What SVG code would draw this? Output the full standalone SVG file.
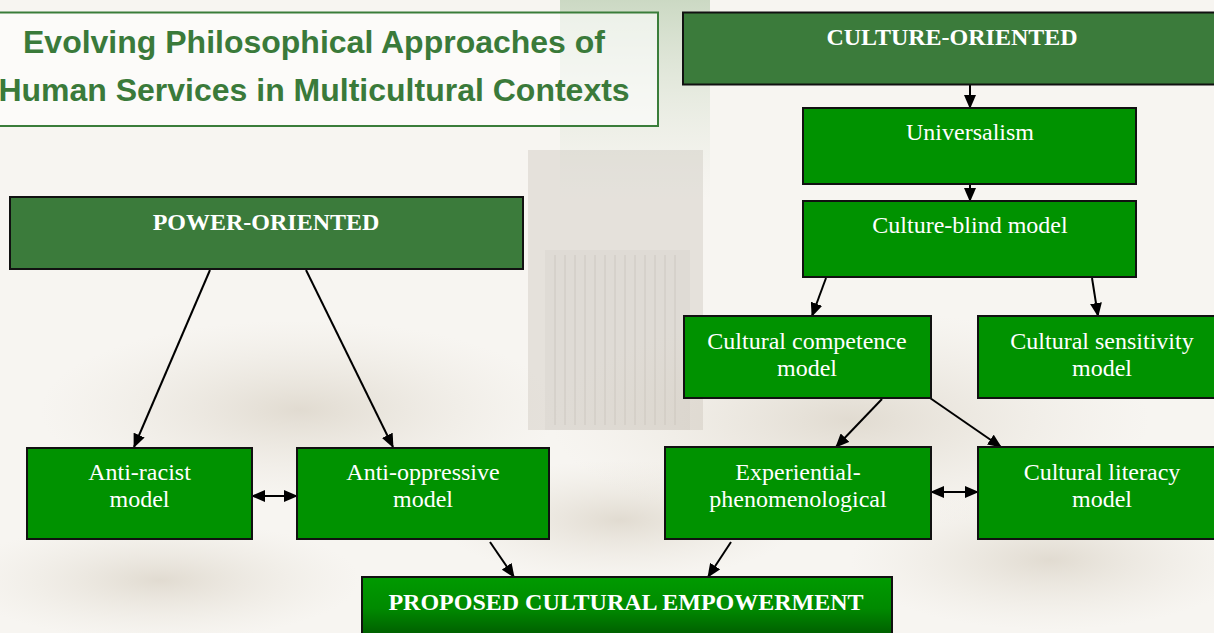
<svg xmlns="http://www.w3.org/2000/svg" width="1214" height="633" viewBox="0 0 1214 633">
  <defs>
    <marker id="ah" markerUnits="userSpaceOnUse" markerWidth="14" markerHeight="12" refX="13" refY="6" orient="auto-start-reverse" viewBox="0 0 14 12">
      <path d="M0,0 L14,6 L0,12 Z" fill="#000"/>
    </marker>
    <linearGradient id="propGrad" x1="0" y1="0" x2="0" y2="1">
      <stop offset="0" stop-color="#009a00"/>
      <stop offset="0.45" stop-color="#008a00"/>
      <stop offset="1" stop-color="#004a00"/>
    </linearGradient>
    <linearGradient id="barGrad" x1="0" y1="0" x2="0" y2="1">
      <stop offset="0" stop-color="#b9cdb0" stop-opacity="0.7"/>
      <stop offset="1" stop-color="#dfe6d8" stop-opacity="0"/>
    </linearGradient>
    <radialGradient id="stone" cx="0.5" cy="0.5" r="0.5">
      <stop offset="0" stop-color="#b8ab95" stop-opacity="0.35"/>
      <stop offset="1" stop-color="#d8d0c0" stop-opacity="0"/>
    </radialGradient>
    <style>
      .hdr { fill: #3b7b3b; stroke: #111; stroke-width: 2; }
      .node { fill: #009200; stroke: #111; stroke-width: 2; }
      .hdrtxt { font-family: "Liberation Serif", "Times New Roman", serif; font-weight: bold; font-size: 24px; fill: #ffffff; text-anchor: middle; }
      .txt { font-family: "Liberation Serif", "Times New Roman", serif; font-size: 24px; fill: #ffffff; text-anchor: middle; }
      .title { font-family: "Liberation Sans", Arial, sans-serif; font-weight: bold; font-size: 32px; fill: #3a7a3a; text-anchor: middle; }
      .conn line { stroke: #000; stroke-width: 2; marker-end: url(#ah); }
      .conn line.both { marker-start: url(#ah); }
    </style>
  </defs>

  <!-- faint photographic background -->
  <g id="background">
    <rect x="0" y="0" width="1214" height="633" fill="#f7f5f1"/>
    <rect x="560" y="0" width="150" height="200" fill="url(#barGrad)"/>
    <rect x="528" y="150" width="175" height="280" fill="#cfcac2" opacity="0.45"/>
    <rect x="545" y="250" width="145" height="180" fill="#d9d6d0" opacity="0.5"/>
    <g stroke="#bdb8b0" stroke-width="1" opacity="0.5">
      <line x1="555" y1="255" x2="555" y2="425"/><line x1="565" y1="255" x2="565" y2="425"/>
      <line x1="575" y1="255" x2="575" y2="425"/><line x1="585" y1="255" x2="585" y2="425"/>
      <line x1="595" y1="255" x2="595" y2="425"/><line x1="605" y1="255" x2="605" y2="425"/>
      <line x1="615" y1="255" x2="615" y2="425"/><line x1="625" y1="255" x2="625" y2="425"/>
      <line x1="635" y1="255" x2="635" y2="425"/><line x1="645" y1="255" x2="645" y2="425"/>
      <line x1="655" y1="255" x2="655" y2="425"/><line x1="665" y1="255" x2="665" y2="425"/>
      <line x1="675" y1="255" x2="675" y2="425"/>
    </g>
    <ellipse cx="300" cy="410" rx="260" ry="90" fill="url(#stone)"/>
    <ellipse cx="850" cy="420" rx="300" ry="110" fill="url(#stone)"/>
    <ellipse cx="160" cy="580" rx="200" ry="60" fill="url(#stone)"/>
    <ellipse cx="1050" cy="560" rx="200" ry="70" fill="url(#stone)"/>
    <ellipse cx="620" cy="520" rx="180" ry="60" fill="url(#stone)"/>
  </g>

  <g id="title">
    <rect x="-2" y="12.5" width="660" height="113.5" fill="#ffffff" fill-opacity="0.6" stroke="#3a7d3a" stroke-width="2"/>
    <text class="title" x="314" y="53">Evolving Philosophical Approaches of</text>
    <text class="title" x="314" y="101">Human Services in Multicultural Contexts</text>
  </g>

  <g id="connectors" class="conn">
    <line x1="970" y1="85" x2="970" y2="108"/>
    <line x1="970" y1="185" x2="970" y2="201"/>
    <line x1="826" y1="278" x2="812" y2="316"/>
    <line x1="1092" y1="278" x2="1098" y2="316"/>
    <line x1="882" y1="399" x2="836" y2="447"/>
    <line x1="930" y1="398" x2="1001" y2="447"/>
    <line class="both" x1="931" y1="492" x2="978" y2="492"/>
    <line class="both" x1="252" y1="496" x2="297" y2="496"/>
    <line x1="210" y1="270" x2="134" y2="447"/>
    <line x1="306" y1="270" x2="393" y2="447"/>
    <line x1="490" y1="542" x2="514" y2="577"/>
    <line x1="731" y1="542" x2="708" y2="577"/>
  </g>

  <g id="culture-oriented">
    <rect class="hdr" x="683" y="12.5" width="540" height="72"/>
    <text class="hdrtxt" x="952" y="45">CULTURE-ORIENTED</text>
  </g>

  <g id="universalism">
    <rect class="node" x="803" y="108" width="333" height="76"/>
    <text class="txt" x="970" y="140">Universalism</text>
  </g>

  <g id="culture-blind">
    <rect class="node" x="803" y="201" width="333" height="76"/>
    <text class="txt" x="970" y="233">Culture-blind model</text>
  </g>

  <g id="cultural-competence">
    <rect class="node" x="684" y="316" width="247" height="82"/>
    <text class="txt" x="807" y="349">Cultural competence</text>
    <text class="txt" x="807" y="376">model</text>
  </g>

  <g id="cultural-sensitivity">
    <rect class="node" x="978" y="316" width="248" height="82"/>
    <text class="txt" x="1102" y="349">Cultural sensitivity</text>
    <text class="txt" x="1102" y="376">model</text>
  </g>

  <g id="experiential">
    <rect class="node" x="665" y="447" width="266" height="92"/>
    <text class="txt" x="798" y="480">Experiential-</text>
    <text class="txt" x="798" y="507">phenomenological</text>
  </g>

  <g id="cultural-literacy">
    <rect class="node" x="978" y="447" width="248" height="92"/>
    <text class="txt" x="1102" y="480">Cultural literacy</text>
    <text class="txt" x="1102" y="507">model</text>
  </g>

  <g id="power-oriented">
    <rect class="hdr" x="10" y="197" width="513" height="72"/>
    <text class="hdrtxt" x="266" y="230">POWER-ORIENTED</text>
  </g>

  <g id="anti-racist">
    <rect class="node" x="27" y="448" width="225" height="91"/>
    <text class="txt" x="139.5" y="480">Anti-racist</text>
    <text class="txt" x="139.5" y="507">model</text>
  </g>

  <g id="anti-oppressive">
    <rect class="node" x="297" y="448" width="252" height="91"/>
    <text class="txt" x="423" y="480">Anti-oppressive</text>
    <text class="txt" x="423" y="507">model</text>
  </g>

  <g id="proposed">
    <rect x="362" y="577" width="530" height="70" fill="url(#propGrad)" stroke="#111" stroke-width="2"/>
    <text class="hdrtxt" x="626" y="610">PROPOSED CULTURAL EMPOWERMENT</text>
  </g>
</svg>
